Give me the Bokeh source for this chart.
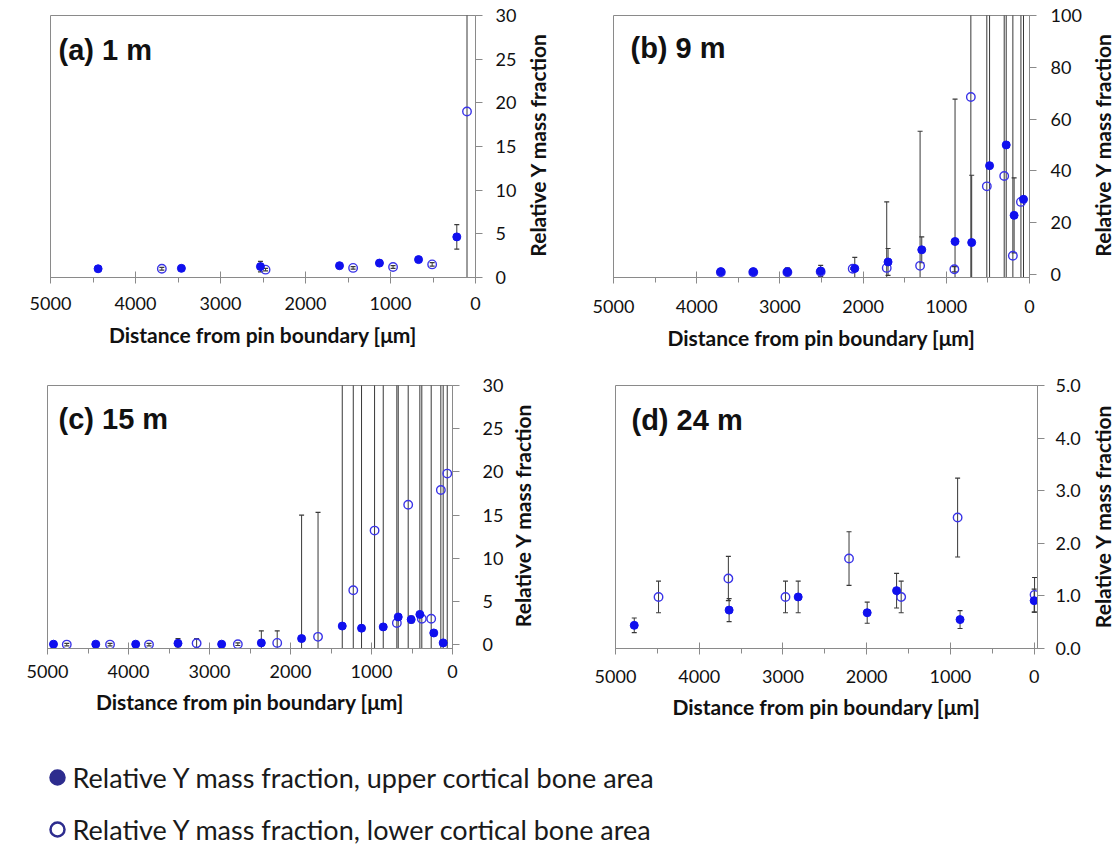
import math
from bokeh.plotting import figure
from bokeh.layouts import column, row
from bokeh.models import FixedTicker, NumeralTickFormatter, Range1d, Label, ColumnDataSource
from bokeh.core.properties import value
from bokeh.embed import file_html
from bokeh.resources import INLINE

# ---------------- data ----------------
x_ticks = [5000, 4000, 3000, 2000, 1000, 0]
x_minor = [4500, 3500, 2500, 1500, 500]
x_title = "Distance from pin boundary [μm]"
y_title = "Relative Y mass fraction"
panel_titles = ["(a) 1 m", "(b) 9 m", "(c) 15 m", "(d) 24 m"]

y_ticks_a = [0, 5, 10, 15, 20, 25, 30]
y_ticks_b = [0, 20, 40, 60, 80, 100]
y_ticks_c = [0, 5, 10, 15, 20, 25, 30]
y_ticks_d = [0, 1, 2, 3, 4, 5]

# (a) 1 m
a_up_x = [4440, 3460, 2530, 1600, 1130, 670, 220]
a_up_y = [1.0, 1.05, 1.25, 1.35, 1.65, 2.05, 4.65]
a_up_err = [0.1, 0.1, 0.6, 0.1, 0.15, 0.25, 1.4]
a_lo_x = [3690, 2470, 1440, 970, 510, 100]
a_lo_y = [1.0, 0.9, 1.1, 1.2, 1.5, 19.0]
a_lo_err = [0.15, 0.15, 0.15, 0.15, 0.2, 60]

# (b) 9 m
b_up_x = [3710, 3320, 2910, 2510, 2100, 1700, 1295, 895, 695, 480, 280, 185, 72]
b_up_y = [1.0, 1.0, 1.0, 1.3, 2.3, 4.8, 9.5, 12.7, 12.3, 42, 50, 22.8, 29]
b_up_err = [0.3, 0.3, 1.5, 2.2, 4.3, 5.2, 5.0, 55, 26, 150, 150, 14.5, 150]
b_lo_x = [3710, 3320, 2910, 2510, 2125, 1716, 1315, 903, 705, 513, 304, 200, 103]
b_lo_y = [0.8, 0.8, 0.8, 1.0, 2.2, 2.5, 3.3, 2.0, 68.5, 34, 38, 7.2, 28]
b_lo_err = [0.2, 0.2, 0.2, 0.3, 0.3, 25.5, 52, 1.0, 150, 150, 150, 150, 150]

# (c) 15 m
c_up_x = [4926, 4404, 3911, 3389, 2850, 2360, 1863, 1361, 1123, 855, 670, 510, 403, 231, 115]
c_up_y = [0.05, 0.05, 0.05, 0.15, 0.05, 0.2, 0.7, 2.15, 1.9, 2.05, 3.2, 2.9, 3.5, 1.35, 0.2]
c_up_err = [0.1, 0.1, 0.1, 0.55, 0.15, 1.4, 14.3, 40, 40, 40, 40, 0.4, 40, 0.3, 40]
c_lo_x = [4762, 4228, 3747, 3159, 2650, 2164, 1660, 1225, 962, 687, 547, 379, 263, 144, 65]
c_lo_y = [0.0, 0.0, 0.0, 0.15, 0.05, 0.2, 0.9, 6.3, 13.2, 2.5, 16.2, 3.0, 3.0, 17.9, 19.8]
c_lo_err = [0.15, 0.15, 0.15, 0.55, 0.15, 1.4, 14.4, 40, 40, 40, 40, 40, 40, 40, 40]

# (d) 24 m
d_up_x = [4776, 3643, 2818, 1994, 1643, 885, 0]
d_up_y = [0.44, 0.73, 0.98, 0.68, 1.10, 0.55, 0.91]
d_up_err = [0.14, 0.22, 0.30, 0.20, 0.33, 0.17, 0.22]
d_lo_x = [4486, 3652, 2970, 2211, 1588, 914, -5]
d_lo_y = [0.98, 1.33, 0.98, 1.71, 0.98, 2.49, 1.02]
d_lo_err = [0.30, 0.42, 0.30, 0.51, 0.30, 0.75, 0.33]

legend_labels = ["Relative Y mass fraction, upper cortical bone area",
                 "Relative Y mass fraction, lower cortical bone area"]

# ---------------- style ----------------
FILL = "#1010ee"
RING = "#3a34e8"
ERR = "#383838"
AX = "#8a8a8a"
TXT = "#111111"
LEG = "#2d2c8e"
FONT = "Lato"


def make_panel(title, ux, uy, ue, lx, ly, le, xr, yr, yticks, yfmt,
               fw, fh, mbl, mbr, mbt, mbb, tdx, tdy, ylso, xlso, xtso):
    p = figure(frame_width=fw, frame_height=fh,
               x_range=Range1d(*xr), y_range=Range1d(*yr),
               y_axis_location="right", toolbar_location=None, output_backend="svg",
               min_border_left=mbl, min_border_right=mbr,
               min_border_top=mbt, min_border_bottom=mbb,
               background_fill_color="white", border_fill_color="white")
    p.outline_line_color = AX
    p.outline_line_width = 1
    p.xgrid.visible = False
    p.ygrid.visible = False

    xa = p.xaxis[0]
    xa.ticker = FixedTicker(ticks=x_ticks, minor_ticks=x_minor)
    xa.axis_line_color = AX
    xa.major_tick_line_color = AX
    xa.minor_tick_line_color = AX
    xa.major_tick_in = 6
    xa.major_tick_out = 6
    xa.minor_tick_in = 0
    xa.minor_tick_out = 5
    xa.major_label_text_font = FONT
    xa.major_label_text_font_size = "18px"
    xa.major_label_text_color = TXT
    xa.major_label_standoff = xlso
    xa.axis_label = x_title
    xa.axis_label_text_font = FONT
    xa.axis_label_text_font_style = "bold"
    xa.axis_label_text_font_size = "21px"
    xa.axis_label_text_color = TXT
    xa.axis_label_standoff = xtso

    ya = p.yaxis[0]
    ya.ticker = FixedTicker(ticks=yticks, minor_ticks=[])
    if yfmt:
        ya.formatter = NumeralTickFormatter(format=yfmt)
    ya.axis_line_color = AX
    ya.major_tick_line_color = AX
    ya.minor_tick_line_color = None
    ya.major_tick_in = 0
    ya.major_tick_out = 7
    ya.major_label_text_font = FONT
    ya.major_label_text_font_size = "18px"
    ya.major_label_text_color = TXT
    ya.major_label_standoff = ylso

    # error bars
    for xs, ys, es in [(ux, uy, ue), (lx, ly, le)]:
        src = ColumnDataSource(dict(x=xs,
                                    lo=[y - e for y, e in zip(ys, es)],
                                    hi=[y + e for y, e in zip(ys, es)]))
        p.segment(x0="x", y0="lo", x1="x", y1="hi", source=src,
                  line_color=ERR, line_width=1)
        p.scatter(x="x", y="lo", source=src, marker="dash", size=5,
                  line_color=ERR, line_width=1.2)
        p.scatter(x="x", y="hi", source=src, marker="dash", size=5,
                  line_color=ERR, line_width=1.2)

    p.scatter(lx, ly, marker="circle", size=8.5, fill_alpha=0,
              line_color=RING, line_width=1.4)
    p.scatter(ux, uy, marker="circle", size=8, fill_color=FILL,
              line_color=FILL, line_width=1)

    p.add_layout(Label(x=xr[0], y=yr[1], x_offset=tdx, y_offset=-tdy, text=title,
                       text_font="Liberation Sans", text_font_style="bold",
                       text_font_size="29px", text_color=TXT,
                       text_align="left", text_baseline="top"))
    return p


def title_strip(w, h, frame_top, frame_bot, cx, cy):
    # the row aligns this strip's frame with its neighbours' frames;
    # its y range is therefore expressed as -(pixels from the top of the row)
    s = figure(width=w, height=h, x_range=Range1d(0, w),
               y_range=Range1d(-frame_bot, -frame_top),
               x_axis_location=None, y_axis_location=None, toolbar_location=None,
               output_backend="svg", min_border=0, outline_line_color=None,
               background_fill_color="white", border_fill_color="white")
    s.xgrid.visible = False
    s.ygrid.visible = False
    s.text(x=[cx], y=[-cy], text=[y_title], angle=math.pi / 2,
           text_font=value(FONT), text_font_style="bold", text_font_size="21px",
           text_color=TXT, text_align="center", text_baseline="middle")
    return s


ROW1_H, ROW2_H = 360, 370

pa = make_panel(panel_titles[0], a_up_x, a_up_y, a_up_err, a_lo_x, a_lo_y, a_lo_err,
                (5000, 0), (0, 30), y_ticks_a, None,
                425, 262, 50, 50, 15, 83, 8, 18, 13, 13, 9)
sa = title_strip(35, ROW1_H, 15, 277, 12, 144)
pb = make_panel(panel_titles[1], b_up_x, b_up_y, b_up_err, b_lo_x, b_lo_y, b_lo_err,
                (5000, 0), (-1.2, 100), y_ticks_b, None,
                416, 262, 53, 59, 15, 83, 17, 16, 14, 16, 9)
sb = title_strip(27, ROW1_H, 15, 277, 14, 144)

pc = make_panel(panel_titles[2], c_up_x, c_up_y, c_up_err, c_lo_x, c_lo_y, c_lo_err,
                (5000, 0), (-0.45, 30), y_ticks_c, None,
                405, 263, 47, 56, 25, 82, 11, 17, 23, 10, 8)
sc = title_strip(52, ROW2_H, 25, 288, 13.5, 154.5)
pd_ = make_panel(panel_titles[3], d_up_x, d_up_y, d_up_err, d_lo_x, d_lo_y, d_lo_err,
                 (5000, -40), (0, 5), y_ticks_d, "0.0",
                 422, 263, 55, 51, 25, 82, 16, 18, 11, 15, 8)
sd = title_strip(27, ROW2_H, 25, 288, 14, 155.5)

# legend strip
LW, LH = 1115, 117
leg = figure(width=LW, height=LH, x_range=Range1d(0, LW), y_range=Range1d(LH, 0),
             x_axis_location=None, y_axis_location=None, toolbar_location=None,
             output_backend="svg", min_border=0, outline_line_color=None)
leg.xgrid.visible = False
leg.ygrid.visible = False
leg_src = ColumnDataSource(dict(mx=[57, 57], ty=[47, 99], tx=[72, 72],
                                label=legend_labels,
                                fill=[LEG, "white"]))
leg.scatter(x="mx", y="ty", source=leg_src, marker="circle", size=14,
            fill_color="fill", line_color=LEG, line_width=2.5)
leg.text(x="tx", y="ty", text="label", source=leg_src, text_font=value(FONT),
         text_font_size="27px", text_color="#1a1a1a", text_baseline="middle",
         text_align="left")

layout = column(row(pa, sa, pb, sb), row(pc, sc, pd_, sd), leg)
open("out.html", "w").write(file_html(layout, INLINE))
